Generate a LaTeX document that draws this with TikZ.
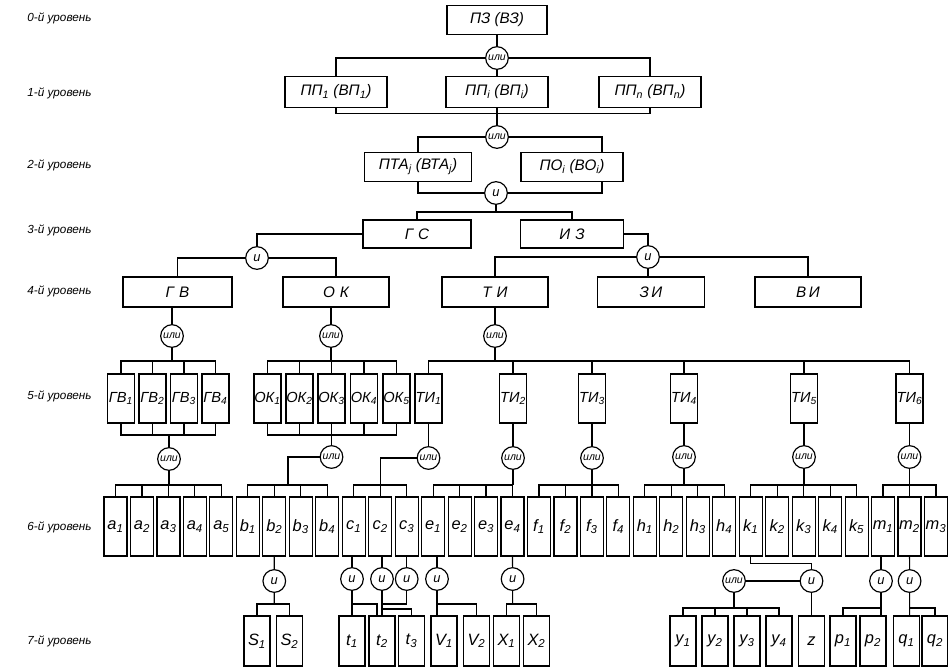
\documentclass[tikz,border=0pt]{standalone}
\usepackage{fontspec}
\setmainfont{Liberation Sans}
\usetikzlibrary{positioning}
\newcommand{\ix}[1]{\textsubscript{#1}}

\begin{document}
\begin{tikzpicture}[
  x=0.03cm, y=-0.03cm, line width=1pt,
  lvltext/.style={anchor=east, font=\itshape\fontsize{10}{12}\selectfont},
  bigbox/.style={rectangle, draw, inner sep=1pt, minimum width=3.2cm, minimum height=0.9cm, font=\itshape\fontsize{13}{15}\selectfont},
  unit/.style={rectangle, draw, inner sep=0pt, minimum width=0.81cm, minimum height=1.47cm, font=\itshape\fontsize{12.5}{14}\selectfont},
  cell/.style={rectangle, draw, inner sep=0pt, minimum width=0.69cm, minimum height=1.77cm, font=\itshape\fontsize{14}{16}\selectfont},
  leaf/.style={rectangle, draw, inner sep=0pt, minimum width=0.78cm, minimum height=1.5cm, font=\itshape\fontsize{14}{16}\selectfont},
  gate/.style={circle, draw, fill=white, inner sep=0pt, minimum size=0.68cm, font=\itshape\fontsize{11}{12}\selectfont},
  orgate/.style={gate, font=\itshape\fontsize{9}{10}\selectfont}
  ]
  \useasboundingbox (0,0) rectangle (948,669);

  % level captions
  \node[lvltext] (l0) at (96,18) {0-й уровень};
  \node[lvltext] (l1) at (96,93) {1-й уровень};
  \node[lvltext] (l2) at (96,165) {2-й уровень};
  \node[lvltext] (l3) at (96,230) {3-й уровень};
  \node[lvltext] (l4) at (96,291) {4-й уровень};
  \node[lvltext] (l5) at (96,396) {5-й уровень};
  \node[lvltext] (l6) at (96,527) {6-й уровень};
  \node[lvltext] (l7) at (96,641) {7-й уровень};

  % levels 0-2
  \node[bigbox, minimum width=3.0cm, minimum height=0.87cm] (pz) at (497,20) {ПЗ (ВЗ)};
  \node[orgate] (or0) at (497,58) {или};
  \node[bigbox, minimum width=3.06cm, minimum height=0.93cm] (pp1) at (336,92) {ПП\ix{1} (ВП\ix{1})};
  \node[bigbox, minimum width=3.06cm, minimum height=0.93cm] (ppi) at (497,92) {ПП\ix{i} (ВП\ix{i})};
  \node[bigbox, minimum width=3.06cm, minimum height=0.93cm] (ppn) at (650,92) {ПП\ix{n} (ВП\ix{n})};
  \draw (pz) -- (or0) -- (ppi);
  \draw (or0) -| (pp1);
  \draw (or0) -| (ppn);
  \draw (pp1.south) -- ++(0,5) -| (ppn.south);

  \node[orgate] (or1) at (497,137) {или};
  \node[bigbox, minimum width=3.21cm, minimum height=0.87cm] (pta) at (418,167) {ПТА\ix{j} (ВТА\ix{j})};
  \node[bigbox, minimum width=3.06cm, minimum height=0.87cm] (po) at (572,167) {ПО\ix{i} (ВО\ix{i})};
  \node[gate] (and0) at (496,193) {и};
  \draw (ppi) -- (or1);
  \draw (or1) -| (pta);
  \draw (or1) -| ([xshift=0.9cm]po.north);
  \draw (and0) -| (pta);
  \draw (and0) -| ([xshift=0.9cm]po.south);

  % level 3
  \coordinate (bar3) at (0,212);
  \node[bigbox, minimum width=3.24cm, minimum height=0.84cm] (gs) at (417,234) {Г\,\,С};
  \node[bigbox, minimum width=3.09cm, minimum height=0.84cm] (iz) at (572,234) {И\,\,З};
  \draw (and0) -- (and0 |- bar3);
  \draw (gs) |- (bar3 -| iz) -- (iz);

  % level 4
  \node[gate] (and1) at (257,258) {и};
  \node[gate] (and2) at (648,257) {и};
  \node[bigbox, minimum width=3.27cm] (gv) at (177.5,292) {Г\,\,В};
  \node[bigbox, minimum width=3.18cm] (ok) at (336,292) {О\,\,К};
  \node[bigbox, minimum width=3.18cm] (ti) at (495,292) {Т\,\,И};
  \node[bigbox, minimum width=3.21cm] (ei) at (651,292) {З\,И};
  \node[bigbox, minimum width=3.18cm] (vi) at (808,292) {В\,И};
  \draw (gs) -| (and1);
  \draw (iz) -| (and2);
  \draw (and1) -| (gv);
  \draw (and1) -| (ok);
  \draw (and2) -| (ti);
  \draw (and2) -| (vi);
  \draw (and2) -- (and2 |- ei.north);

  % level 5
  \coordinate (top5) at (0,361);
  \coordinate (bot5) at (0,435);
  \node[orgate] (orgv) at (172,336) {или};
  \node[orgate] (orok) at (331,336) {или};
  \node[orgate] (orti) at (495,336) {или};
  \draw (orgv |- gv.south) -- (orgv);
  \draw (orok |- ok.south) -- (orok);
  \draw (ti) -- (orti);

  \node[unit] (gv1) at (121,398.5) {ГВ\ix{1}};
  \node[unit] (gv2) at (152.5,398.5) {ГВ\ix{2}};
  \node[unit] (gv3) at (184,398.5) {ГВ\ix{3}};
  \node[unit] (gv4) at (215.5,398.5) {ГВ\ix{4}};
  \node[unit] (ok1) at (267.5,398.5) {ОК\ix{1}};
  \node[unit] (ok2) at (299.5,398.5) {ОК\ix{2}};
  \node[unit] (ok3) at (331.5,398.5) {ОК\ix{3}};
  \node[unit] (ok4) at (364,398.5) {ОК\ix{4}};
  \node[unit] (ok5) at (396.5,398.5) {ОК\ix{5}};
  \node[unit] (ti1) at (428.5,398.5) {ТИ\ix{1}};
  \node[unit] (ti2) at (513,398.5) {ТИ\ix{2}};
  \node[unit] (ti3) at (592,398.5) {ТИ\ix{3}};
  \node[unit] (ti4) at (684,398.5) {ТИ\ix{4}};
  \node[unit] (ti5) at (804,398.5) {ТИ\ix{5}};
  \node[unit] (ti6) at (909.5,398.5) {ТИ\ix{6}};

  \draw (gv1) |- (top5 -| gv4) -- (gv4) (gv2) -- (gv2 |- top5) (gv3) -- (gv3 |- top5) (orgv) -- (orgv |- top5);
  \draw (gv1) |- (bot5 -| gv4) -- (gv4) (gv2) -- (gv2 |- bot5) (gv3) -- (gv3 |- bot5);
  \draw (ok1) |- (top5 -| ok5) -- (ok5) (ok2) -- (ok2 |- top5) (ok3) -- (ok3 |- top5) (ok4) -- (ok4 |- top5) (orok) -- (orok |- top5);
  \draw (ok1) |- (bot5 -| ok5) -- (ok5) (ok2) -- (ok2 |- bot5) (ok3) -- (ok3 |- bot5) (ok4) -- (ok4 |- bot5);
  \draw (ti1) |- (top5 -| ti6) -- (ti6) (ti2) -- (ti2 |- top5) (ti3) -- (ti3 |- top5) (ti4) -- (ti4 |- top5) (ti5) -- (ti5 |- top5) (orti) -- (orti |- top5);

  \node[orgate] (orgv2) at (169,459) {или};
  \node[orgate] (orok2) at (331.5,457) {или};
  \node[orgate] (orti1) at (428.5,458) {или};
  \node[orgate] (orti2) at (513,458) {или};
  \node[orgate] (orti3) at (592,458) {или};
  \node[orgate] (orti4) at (684,457) {или};
  \node[orgate] (orti5) at (804,457) {или};
  \node[orgate] (orti6) at (909.5,457) {или};
  \draw (orgv2) -- (orgv2 |- bot5);
  \draw (orok2) -- (orok2 |- bot5);
  \draw (ti1) -- (orti1);
  \draw (ti2) -- (orti2);
  \draw (ti3) -- (orti3);
  \draw (ti4) -- (orti4);
  \draw (ti5) -- (orti5);
  \draw (ti6) -- (orti6);

  % level 6
  \begin{scope}[node distance=0.794cm, on grid]
    \node[cell] (a1) at (115.5,526.5) {a\ix{1}};
    \node[cell, right=of a1] (a2) {a\ix{2}};
    \node[cell, right=of a2] (a3) {a\ix{3}};
    \node[cell, right=of a3] (a4) {a\ix{4}};
    \node[cell, right=of a4] (a5) {a\ix{5}};
    \node[cell, right=of a5] (b1) {b\ix{1}};
    \node[cell, right=of b1] (b2) {b\ix{2}};
    \node[cell, right=of b2] (b3) {b\ix{3}};
    \node[cell, right=of b3] (b4) {b\ix{4}};
    \node[cell, right=of b4] (c1) {c\ix{1}};
    \node[cell, right=of c1] (c2) {c\ix{2}};
    \node[cell, right=of c2] (c3) {c\ix{3}};
    \node[cell, right=of c3] (e1) {e\ix{1}};
    \node[cell, right=of e1] (e2) {e\ix{2}};
    \node[cell, right=of e2] (e3) {e\ix{3}};
    \node[cell, right=of e3] (e4) {e\ix{4}};
    \node[cell, right=of e4] (f1) {f\ix{1}};
    \node[cell, right=of f1] (f2) {f\ix{2}};
    \node[cell, right=of f2] (f3) {f\ix{3}};
    \node[cell, right=of f3] (f4) {f\ix{4}};
    \node[cell, right=of f4] (h1) {h\ix{1}};
    \node[cell, right=of h1] (h2) {h\ix{2}};
    \node[cell, right=of h2] (h3) {h\ix{3}};
    \node[cell, right=of h3] (h4) {h\ix{4}};
    \node[cell, right=of h4] (k1) {k\ix{1}};
    \node[cell, right=of k1] (k2) {k\ix{2}};
    \node[cell, right=of k2] (k3) {k\ix{3}};
    \node[cell, right=of k3] (k4) {k\ix{4}};
    \node[cell, right=of k4] (k5) {k\ix{5}};
    \node[cell, right=of k5] (m1) {m\ix{1}};
    \node[cell, right=of m1] (m2) {m\ix{2}};
    \node[cell, right=of m2] (m3) {m\ix{3}};
  \end{scope}

  \coordinate (bar6) at (0,485);
  \coordinate (jb) at (288,485);
  \draw (a1) |- (bar6 -| a5) -- (a5) (a2) -- (a2 |- bar6) (a3) -- (a3 |- bar6) (a4) -- (a4 |- bar6) (orgv2) -- (orgv2 |- bar6);
  \draw (b1) |- (bar6 -| b4) -- (b4) (b2) -- (b2 |- bar6) (b3) -- (b3 |- bar6);
  \draw (orok2) -| (jb);
  \draw (c1) |- (bar6 -| c3) -- (c3) (c2) -- (c2 |- bar6);
  \draw (orti1) -| (c2 |- bar6);
  \draw (e1) |- (bar6 -| e4) -- (e4) (e2) -- (e2 |- bar6) (e3) -- (e3 |- bar6) (orti2) -- (orti2 |- bar6);
  \draw (f1) |- (bar6 -| f4) -- (f4) (f2) -- (f2 |- bar6) (f3) -- (f3 |- bar6) (orti3) -- (orti3 |- bar6);
  \draw (h1) |- (bar6 -| h4) -- (h4) (h2) -- (h2 |- bar6) (h3) -- (h3 |- bar6) (orti4) -- (orti4 |- bar6);
  \draw (k1) |- (bar6 -| k5) -- (k5) (k2) -- (k2 |- bar6) (k3) -- (k3 |- bar6) (k4) -- (k4 |- bar6) (orti5) -- (orti5 |- bar6);
  \draw (m1) |- (bar6 -| m3) -- (m3) (m2) -- (m2 |- bar6) (orti6) -- (orti6 |- bar6);

  % level 7
  \coordinate (bar7) at (0,604);
  \coordinate (bar7b) at (0,609);
  \coordinate (bar7c) at (0,608);
  \node[gate] (andb2) at (274.3,581) {и};
  \node[gate] (andc1) at (352,579) {и};
  \node[gate] (andc2) at (382,579) {и};
  \node[gate] (andc3) at (406.7,579) {и};
  \node[gate] (ande1) at (437,579) {и};
  \node[gate] (ande4) at (512.6,579) {и};
  \node[orgate] (ory) at (734,581) {или};
  \node[gate] (andk) at (811.5,581) {и};
  \node[gate] (andm1) at (881,581) {и};
  \node[gate] (andm2) at (909.6,581) {и};

  \node[leaf] (s1) at (257,641) {S\ix{1}};
  \node[leaf] (s2) at (289.5,641) {S\ix{2}};
  \node[leaf] (t1) at (352,641) {t\ix{1}};
  \node[leaf] (t2) at (382,641) {t\ix{2}};
  \node[leaf] (t3) at (411.5,641) {t\ix{3}};
  \node[leaf] (v1) at (444,641) {V\ix{1}};
  \node[leaf] (v2) at (476.5,641) {V\ix{2}};
  \node[leaf] (x1) at (506.5,641) {X\ix{1}};
  \node[leaf] (x2) at (536.5,641) {X\ix{2}};
  \node[leaf] (y1) at (683,641) {y\ix{1}};
  \node[leaf] (y2) at (715,641) {y\ix{2}};
  \node[leaf] (y3) at (747,641) {y\ix{3}};
  \node[leaf] (y4) at (779,641) {y\ix{4}};
  \node[leaf] (zz) at (811.5,641) {z};
  \node[leaf] (p1) at (843,641) {p\ix{1}};
  \node[leaf] (p2) at (873,641) {p\ix{2}};
  \node[leaf] (q1) at (906.5,641) {q\ix{1}};
  \node[leaf] (q2) at (935,641) {q\ix{2}};

  \draw (b2) -- (andb2) -- (andb2 |- bar7);
  \draw (s1) |- (bar7 -| s2) -- (s2);
  \draw (andc1 |- c1.south) -- (andc1) -- (t1);
  \draw (andc1 |- bar7) -| ([xshift=-0.15cm]t2.north);
  \draw (andc2 |- c2.south) -- (andc2) -- (t2);
  \draw (andc2 |- bar7b) -| (t3);
  \draw (andc3 |- c3.south) -- (andc3) |- (andc2 |- bar7);
  \draw (ande1 |- e1.south) -- (ande1) -- (ande1 |- v1.north);
  \draw (ande1 |- bar7) -| (v2);
  \draw (e4) -- (ande4) -- (ande4 |- bar7);
  \draw (x1) |- (bar7 -| x2) -- (x2);
  \draw (k1.south) -- ++(0,7) -| (andk);
  \draw (ory) -- (andk) -- (zz);
  \draw (ory) -- (ory |- bar7c);
  \draw (y1) |- (bar7c -| y4) -- (y4) (y2) -- (y2 |- bar7c) (y3) -- (y3 |- bar7c);
  \draw (andm1 |- m1.south) -- (andm1) -- (andm1 |- p2.north);
  \draw (andm1 |- bar7c) -| (p1);
  \draw (m2) -- (andm2) -- (andm2 |- q1.north);
  \draw (andm2 |- bar7c) -| (q2);
\end{tikzpicture}
\end{document}
